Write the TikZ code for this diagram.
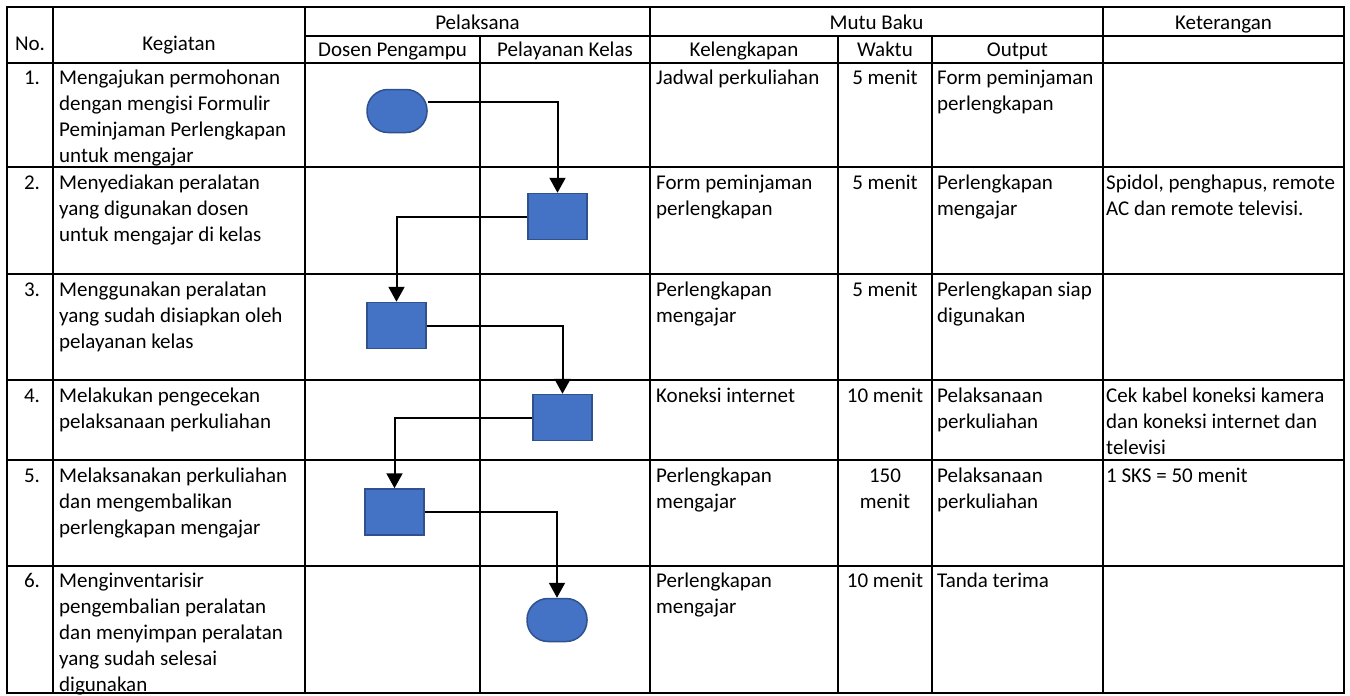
\documentclass[tikz,border=0pt]{standalone}
\usepackage{fontspec}
\setmainfont{Carlito}
\usepackage{xcolor}
\definecolor{shapefill}{HTML}{4472C4}
\definecolor{shapeline}{HTML}{2F528F}
\usetikzlibrary{arrows.meta}

\begin{document}
\begin{tikzpicture}[x=1pt, y=-1pt,
		grid/.style = {line width=2.2pt},
		txt/.style = {inner sep=0pt, font=\fontsize{21}{26}\selectfont},
		cell/.style = {txt, anchor=north west, align=left},
		mid/.style = {txt, anchor=north, align=center},
		head/.style = {txt, anchor=base},
		proses/.style = {draw=shapeline, fill=shapefill, line width=1.5pt, minimum width=59pt, minimum height=46pt, inner sep=0pt},
		terminal/.style = {proses, rounded corners=21pt, minimum width=60pt, minimum height=43pt},
		flow/.style = {line width=2pt, -{Triangle[width=16pt, length=15pt]}}]

	\useasboundingbox (0,0) rectangle (1350,696);

	% tabel
	\begin{scope}[grid]
		\draw (7,7) rectangle (1344,693);
		\draw (305,36) -- (1344,36);
		\foreach \y in {63, 167, 274, 380, 460, 566}
			\draw (7,\y) -- (1344,\y);
		\foreach \x in {53, 305, 650, 1103}
			\draw (\x,7) -- (\x,693);
		\foreach \x in {480, 838, 932}
			\draw (\x,36) -- (\x,693);
	\end{scope}

	% kepala tabel
	\node[head] (hno) at (30,50) {No.};
	\node[head] (hkeg) at (179,50) {Kegiatan};
	\node[head] (hpel) at (477.5,29) {Pelaksana};
	\node[head] (hmutu) at (876.5,29) {Mutu Baku};
	\node[head] (hket) at (1223.5,29) {Keterangan};
	\node[head] (hdosen) at (392.5,56) {Dosen Pengampu};
	\node[head] (hlayan) at (565,56) {Pelayanan Kelas};
	\node[head] (hkel) at (744,56) {Kelengkapan};
	\node[head] (hwaktu) at (885,56) {Waktu};
	\node[head] (hout) at (1017.5,56) {Output};

	% baris 1
	\node[mid] (no1) at (32,66) {\strut 1.};
	\node[cell] (keg1) at (59,66) {\strut Mengajukan permohonan\\dengan mengisi Formulir\\Peminjaman Perlengkapan\\untuk mengajar};
	\node[cell] (kel1) at (656,66) {\strut Jadwal perkuliahan};
	\node[mid] (wkt1) at (885,66) {\strut 5 menit};
	\node[cell] (out1) at (937,66) {\strut Form peminjaman\\perlengkapan};

	% baris 2
	\node[mid] (no2) at (32,171) {\strut 2.};
	\node[cell] (keg2) at (59,171) {\strut Menyediakan peralatan\\yang digunakan dosen\\untuk mengajar di kelas};
	\node[cell] (kel2) at (656,171) {\strut Form peminjaman\\perlengkapan};
	\node[mid] (wkt2) at (885,171) {\strut 5 menit};
	\node[cell] (out2) at (937,171) {\strut Perlengkapan\\mengajar};
	\node[cell] (ket2) at (1106,171) {\strut Spidol, penghapus, remote\\AC dan remote televisi.};

	% baris 3
	\node[mid] (no3) at (32,278) {\strut 3.};
	\node[cell] (keg3) at (59,278) {\strut Menggunakan peralatan\\yang sudah disiapkan oleh\\pelayanan kelas};
	\node[cell] (kel3) at (656,278) {\strut Perlengkapan\\mengajar};
	\node[mid] (wkt3) at (885,278) {\strut 5 menit};
	\node[cell] (out3) at (937,278) {\strut Perlengkapan siap\\digunakan};

	% baris 4
	\node[mid] (no4) at (32,384) {\strut 4.};
	\node[cell] (keg4) at (59,384) {\strut Melakukan pengecekan\\pelaksanaan perkuliahan};
	\node[cell] (kel4) at (656,384) {\strut Koneksi internet};
	\node[mid] (wkt4) at (885,384) {\strut 10 menit};
	\node[cell] (out4) at (937,384) {\strut Pelaksanaan\\perkuliahan};
	\node[cell] (ket4) at (1106,384) {\strut Cek kabel koneksi kamera\\dan koneksi internet dan\\televisi};

	% baris 5
	\node[mid] (no5) at (32,464) {\strut 5.};
	\node[cell] (keg5) at (59,464) {\strut Melaksanakan perkuliahan\\dan mengembalikan\\perlengkapan mengajar};
	\node[cell] (kel5) at (656,464) {\strut Perlengkapan\\mengajar};
	\node[mid] (wkt5) at (885,464) {\strut 150\\menit};
	\node[cell] (out5) at (937,464) {\strut Pelaksanaan\\perkuliahan};
	\node[cell] (ket5) at (1106,464) {\strut 1 SKS = 50 menit};

	% baris 6
	\node[mid] (no6) at (32,569) {\strut 6.};
	\node[cell] (keg6) at (59,569) {\strut Menginventarisir\\pengembalian peralatan\\dan menyimpan peralatan\\yang sudah selesai\\digunakan};
	\node[cell] (kel6) at (656,569) {\strut Perlengkapan\\mengajar};
	\node[mid] (wkt6) at (885,569) {\strut 10 menit};
	\node[cell] (out6) at (937,569) {\strut Tanda terima};

	% alur
	\node[terminal] (mulai) at (397,111) {};
	\node[proses] (siap) at (557.5,216.5) {};
	\node[proses] (pakai) at (396.5,325.5) {};
	\node[proses] (cek) at (562.5,417.5) {};
	\node[proses] (laksana) at (394.5,512) {};
	\node[terminal] (selesai) at (557,620) {};

	\draw[flow] ([yshift=9pt]mulai.east) -| (siap.north);
	\draw[flow] (siap.west) -| (pakai.north);
	\draw[flow] (pakai.east) -| (cek.north);
	\draw[flow] (cek.west) -| (laksana.north);
	\draw[flow] (laksana.east) -| (selesai.north);
\end{tikzpicture}
\end{document}
